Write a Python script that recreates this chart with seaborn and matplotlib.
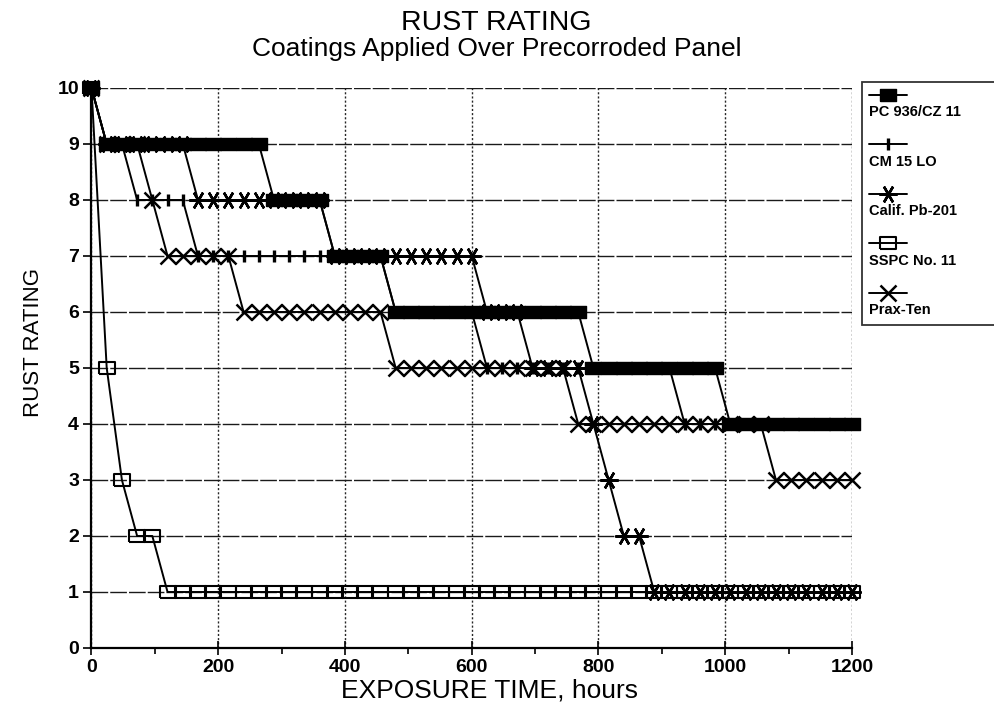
import matplotlib
matplotlib.use("Agg")
import numpy as np
import pandas as pd
import matplotlib.pyplot as plt
import seaborn as sns
from matplotlib.lines import Line2D
from matplotlib.legend_handler import HandlerLine2D

# ---------------- data ----------------
HOURS = [0, 24, 48, 72, 96, 120, 144, 168, 192, 216, 240, 264, 288, 312, 336, 360,
         384, 408, 432, 456, 480, 504, 528, 552, 576, 600, 624, 648, 672, 696, 720,
         744, 768, 792, 816, 840, 864, 888, 912, 936, 960, 984, 1008, 1032, 1056,
         1080, 1104, 1128, 1152, 1176, 1200]

PC_936 = [10, 9, 9, 9, 9, 9, 9, 9, 9, 9, 9, 9, 8, 8, 8, 8, 7, 7, 7, 7,
          6, 6, 6, 6, 6, 6, 6, 6, 6, 6, 6, 6, 6, 5, 5, 5, 5, 5, 5, 5, 5, 5,
          4, 4, 4, 4, 4, 4, 4, 4, 4]
CM_15 = [10, 9, 9, 8, 8, 8, 8, 7, 7, 7, 7, 7, 7, 7, 7, 7, 7, 7, 7, 7,
         6, 6, 6, 6, 6, 6, 5, 5, 5, 5, 5, 5, 5, 5, 5, 5, 5, 5, 5,
         4, 4, 4, 4, 4, 4, 4, 4, 4, 4, 4, 4]
CALIF = [10, 9, 9, 9, 9, 9, 9, 8, 8, 8, 8, 8, 8, 8, 8, 8, 7, 7, 7, 7, 7, 7, 7, 7, 7, 7,
         6, 6, 6, 5, 5, 5, 5, 4, 3, 2, 2,
         1, 1, 1, 1, 1, 1, 1, 1, 1, 1, 1, 1, 1, 1]
SSPC = [10, 5, 3, 2, 2, 1, 1, 1, 1, 1, 1, 1, 1, 1, 1, 1, 1, 1, 1, 1, 1, 1, 1, 1, 1, 1,
        1, 1, 1, 1, 1, 1, 1, 1, 1, 1, 1, 1, 1, 1, 1, 1, 1, 1, 1, 1, 1, 1, 1, 1, 1]
PRAX = [10, 9, 9, 9, 8, 7, 7, 7, 7, 7, 6, 6, 6, 6, 6, 6, 6, 6, 6, 6,
        5, 5, 5, 5, 5, 5, 5, 5, 5, 5, 5, 5,
        4, 4, 4, 4, 4, 4, 4, 4, 4, 4, 4, 4, 4, 3, 3, 3, 3, 3, 3]

LABELS = ["PC 936/CZ 11", "CM 15 LO", "Calif. Pb-201", "SSPC No. 11", "Prax-Ten"]
X_TICKS = [0, 200, 400, 600, 800, 1000, 1200]
X_MINOR = [100, 300, 500, 700, 900, 1100]
Y_TICKS = [0, 1, 2, 3, 4, 5, 6, 7, 8, 9, 10]

series = {LABELS[0]: PC_936, LABELS[1]: CM_15, LABELS[2]: CALIF,
          LABELS[3]: SSPC, LABELS[4]: PRAX}
df = pd.concat([pd.DataFrame({"hours": HOURS, "rating": v, "coating": k})
                for k, v in series.items()], ignore_index=True)

# ---------------- style ----------------
sns.set_theme(style="white")
plt.rcParams["font.family"] = ["Liberation Sans", "DejaVu Sans"]
plt.rcParams["text.color"] = "black"

RECT = [(-1.3, -1), (1.3, -1), (1.3, 1), (-1.3, 1), (-1.3, -1)]
STYLES = {
    "PC 936/CZ 11": dict(marker=RECT, markersize=11, markerfacecolor="black",
                         markeredgecolor="black", markeredgewidth=1.0),
    "CM 15 LO": dict(marker="|", markersize=8, markeredgewidth=2.4,
                     markeredgecolor="black"),
    "Calif. Pb-201": dict(marker=(6, 2, 30), markersize=13, markeredgewidth=1.8,
                          markeredgecolor="black"),
    "SSPC No. 11": dict(marker=RECT, markersize=11, markerfacecolor="none",
                        markeredgecolor="black", markeredgewidth=1.5),
    "Prax-Ten": dict(marker="x", markersize=11.5, markeredgewidth=1.8,
                     markeredgecolor="black"),
}
DRAW_ORDER = ["SSPC No. 11", "CM 15 LO", "Calif. Pb-201", "Prax-Ten", "PC 936/CZ 11"]

fig = plt.figure(figsize=(9.95, 7.13), dpi=100)
ax = fig.add_axes([91.5 / 995, 1 - 648 / 713, (852 - 91.5) / 995, 560 / 713])

for z, name in enumerate(DRAW_ORDER):
    sub = df[df["coating"] == name]
    sns.lineplot(data=sub, x="hours", y="rating", ax=ax, color="black",
                 linewidth=1.4, estimator=None, sort=False, clip_on=False,
                 zorder=3 + z, **STYLES[name])

ax.set_xlim(0, 1200)
ax.set_ylim(0, 10)
ax.set_xticks(X_TICKS)
ax.set_xticks(X_MINOR, minor=True)
ax.set_yticks(Y_TICKS)

ax.yaxis.grid(True, color="0.1", linewidth=1.0, linestyle=(0, (12, 1.5)))
ax.xaxis.grid(True, which="major", color="0.15", linewidth=1.0,
              linestyle=(0, (1.5, 1.5)))
ax.set_axisbelow(True)

for s in ["top", "right"]:
    ax.spines[s].set_visible(False)
for s in ["left", "bottom"]:
    ax.spines[s].set_color("black")
    ax.spines[s].set_linewidth(1.6)

ax.tick_params(axis="y", left=True, direction="out", length=6, width=1.2,
               color="black", labelsize=14, labelcolor="black", pad=3)
ax.tick_params(axis="x", which="major", bottom=True, direction="inout",
               length=10, width=1.2, color="black", labelsize=14,
               labelcolor="black", pad=3)
ax.tick_params(axis="x", which="minor", bottom=True, direction="out",
               length=4, width=1.2, color="black")
for lbl in ax.get_xticklabels() + ax.get_yticklabels():
    lbl.set_fontweight("bold")

ax.set_xlabel("EXPOSURE TIME, hours", fontsize=19, color="black")
ax.set_ylabel("RUST RATING", fontsize=16, color="black")
ax.xaxis.set_label_coords((490 - 91.5) / 760.5, -0.055)
ax.yaxis.set_label_coords((44 - 91.5) / 760.5, 0.545)

fig.text(0.499, 0.968, "RUST RATING", ha="center", va="center", fontsize=20.5)
fig.text(0.499, 0.931, "Coatings Applied Over Precorroded Panel", ha="center",
         va="center", fontsize=19)


# legend: handle drawn on the empty first line of each two-line label
class AboveHandler(HandlerLine2D):
    def create_artists(self, legend, orig_handle, xdescent, ydescent, width,
                       height, fontsize, trans):
        arts = super().create_artists(legend, orig_handle, xdescent, ydescent,
                                      width, height, fontsize, trans)
        for a in arts:
            a.set_ydata(np.asarray(a.get_ydata(), dtype=float) + 0.68 * fontsize)
        return arts


handles = [Line2D([], [], color="black", linewidth=1.4, **STYLES[n]) for n in LABELS]
leg_labels = ["\n" + n for n in LABELS]
leg = ax.legend(handles, leg_labels, handler_map={Line2D: AboveHandler()},
                loc="upper left",
                bbox_to_anchor=(862 / 995, 1 - 340 / 713, 136 / 995, 258 / 713),
                bbox_transform=fig.transFigure, mode="expand", borderaxespad=0,
                frameon=True, fancybox=False, edgecolor="black",
                handlelength=2.6, handletextpad=-2.6, labelspacing=1.32,
                borderpad=0.5, numpoints=1,
                prop={"weight": "bold", "size": 10.5})
leg.get_frame().set_linewidth(1.3)
for t in leg.get_texts():
    t.set_color("black")

fig.savefig("out.png", dpi=100)
